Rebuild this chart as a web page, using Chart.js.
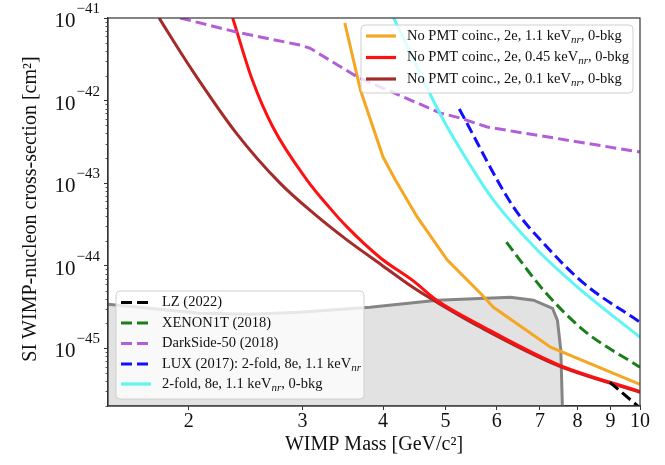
<!DOCTYPE html>
<html>
<head>
<meta charset="utf-8">
<script src="https://cdn.jsdelivr.net/npm/chart.js@4.4.1/dist/chart.umd.min.js"></script>
<style>
html, body { margin: 0; padding: 0; background: #fff; }
</style>
</head>
<body>
<canvas id="limitChart" width="665" height="465"></canvas>
<script>
// axis ticks
const massTicks = [2, 3, 4, 5, 6, 7, 8, 9, 10];
const sigmaTicks = [1e-45, 1e-44, 1e-43, 1e-42, 1e-41];

// No PMT coinc., 2e, 1.1 keV_nr
const orangeMass = [3.49, 3.69, 4.00, 4.18, 4.52, 5.03, 5.66, 5.93, 7.27, 10];
const orangeSigma = [8.7e-42, 1.34e-42, 2.07e-43, 1.09e-43, 3.87e-44, 1.17e-44, 4.64e-45, 3.14e-45, 1.03e-45, 3.66e-46];
// No PMT coinc., 2e, 0.45 keV_nr
const redMass = [2.34, 2.51, 2.70, 3.05, 3.31, 3.52, 3.96, 4.46, 4.85, 5.66, 7.45, 10];
const redSigma = [1.0e-41, 1.77e-42, 4.78e-43, 1.09e-43, 4.98e-44, 2.93e-44, 1.25e-44, 6.5e-45, 3.8e-45, 1.9e-45, 6.4e-46, 3.0e-46];
// No PMT coinc., 2e, 0.1 keV_nr
const brownMass = [1.80, 1.89, 2.01, 2.37, 2.77, 3.12, 3.52, 3.96, 4.46, 4.85, 5.66, 7.45, 10];
const brownSigma = [1.0e-41, 5.41e-42, 2.55e-42, 4.04e-43, 1.0e-43, 4.33e-44, 2.04e-44, 1.05e-44, 5.4e-45, 3.6e-45, 1.80e-45, 6.22e-46, 2.93e-46];
// LZ (2022)
const lzMass = [8.98, 10];
const lzSigma = [3.87e-46, 1.9e-46];
// XENON1T (2018)
const xenonMass = [6.21, 7.09, 8.18, 10];
const xenonSigma = [1.93e-44, 5.05e-45, 1.65e-45, 5.89e-46];
// DarkSide-50 (2018)
const darksideMass = [1.94, 2.37, 2.97, 3.08, 3.65, 4.91, 5.27, 5.80, 10];
const darksideSigma = [1.0e-41, 6.76e-42, 4.71e-42, 4.33e-42, 1.93e-42, 7.05e-43, 6.14e-43, 4.78e-43, 2.38e-43];
// LUX (2017): 2-fold, 8e, 1.1 keV_nr
const luxMass = [5.25, 6.37, 7.09, 8.18, 10];
const luxSigma = [7.89e-43, 5.12e-44, 1.87e-44, 6.14e-45, 2.07e-45];
// 2-fold, 8e, 1.1 keV_nr, 0-bkg
const cyanMass = [4.15, 4.96, 5.46, 5.93, 6.94, 8.01, 10];
const cyanSigma = [1.02e-41, 5.81e-43, 1.65e-43, 6.22e-44, 1.54e-44, 5.48e-45, 1.36e-45];
// grey shaded region
const regionMass = [1.45, 1.74, 2.08, 2.49, 2.97, 3.82, 4.85, 6.30, 6.84, 7.32, 7.45, 7.54, 7.59];
const regionSigma = [3.51e-45, 3.05e-45, 2.65e-45, 2.58e-45, 2.73e-45, 3.14e-45, 3.82e-45, 4.15e-45, 3.82e-45, 3.05e-45, 2.18e-45, 9.46e-46, 1.5e-46];

const SERIF = '"Liberation Serif", "Times New Roman", serif';
const DASH = [11, 5];

const pts = (xs, ys) => xs.map((x, i) => ({ x: x, y: ys[i] }));

const legendTop = [
    { parts: ['No PMT coinc., 2e, 1.1 keV', 'nr', ', 0-bkg'], color: '#f5a623', dash: [] },
    { parts: ['No PMT coinc., 2e, 0.45 keV', 'nr', ', 0-bkg'], color: '#ff1010', dash: [] },
    { parts: ['No PMT coinc., 2e, 0.1 keV', 'nr', ', 0-bkg'], color: '#a52a2a', dash: [] }
];
const legendBottom = [
    { parts: ['LZ (2022)'], color: '#000000', dash: DASH },
    { parts: ['XENON1T (2018)'], color: '#1a7f1a', dash: DASH },
    { parts: ['DarkSide-50 (2018)'], color: '#b25ed8', dash: DASH },
    { parts: ['LUX (2017): 2-fold, 8e, 1.1 keV', 'nr'], color: '#1010ff', dash: DASH },
    { parts: ['2-fold, 8e, 1.1 keV', 'nr', ', 0-bkg'], color: '#5ff5f5', dash: [] }
];

function drawLegend(ctx, box, rows, rowY) {
    ctx.save();
    ctx.beginPath();
    ctx.roundRect(box.x, box.y, box.w, box.h, 4);
    ctx.fillStyle = 'rgba(255,255,255,0.8)';
    ctx.fill();
    ctx.strokeStyle = '#d0d0d0';
    ctx.lineWidth = 1;
    ctx.stroke();
    rows.forEach((r, i) => {
        const y = rowY[i];
        ctx.beginPath();
        ctx.setLineDash(r.dash);
        ctx.strokeStyle = r.color;
        ctx.lineWidth = 3.2;
        ctx.moveTo(box.x + 5, y);
        ctx.lineTo(box.x + 35, y);
        ctx.stroke();
        ctx.setLineDash([]);
        let tx = box.x + 46;
        ctx.fillStyle = '#111';
        ctx.textBaseline = 'middle';
        r.parts.forEach((p, k) => {
            if (k === 1) {
                ctx.font = 'italic 11px ' + SERIF;
                ctx.fillText(p, tx, y + 4);
            } else {
                ctx.font = '14.5px ' + SERIF;
                ctx.fillText(p, tx, y);
            }
            tx += ctx.measureText(p).width;
        });
    });
    ctx.restore();
}

const decorations = {
    id: 'decorations',
    afterDatasetsDraw(chart) {
        const { ctx, chartArea: a, scales } = chart;
        ctx.save();
        // frame
        ctx.strokeStyle = '#333';
        ctx.lineWidth = 1.2;
        ctx.strokeRect(a.left, a.top, a.right - a.left, a.bottom - a.top);
        // minor y ticks
        ctx.lineWidth = 0.8;
        for (let d = -46; d <= -42; d++) {
            for (let k = 2; k <= 9; k++) {
                const v = k * Math.pow(10, d);
                if (v < scales.y.min || v > scales.y.max) continue;
                const py = Math.round(scales.y.getPixelForValue(v)) + 0.5;
                ctx.beginPath();
                ctx.moveTo(a.left - 2.5, py);
                ctx.lineTo(a.left, py);
                ctx.stroke();
            }
        }
        // y tick labels 10^n
        ctx.fillStyle = '#111';
        ctx.textBaseline = 'alphabetic';
        sigmaTicks.forEach(v => {
            const py = scales.y.getPixelForValue(v);
            const exp = '\u2212' + String(-Math.round(Math.log10(v)));
            ctx.font = '15px ' + SERIF;
            const ew = ctx.measureText(exp).width;
            ctx.textAlign = 'left';
            ctx.fillText(exp, 100 - ew, py - 5);
            ctx.font = '21px ' + SERIF;
            ctx.textAlign = 'right';
            ctx.fillText('10', 100 - ew - 1, py + 9);
        });
        // axis titles
        ctx.textAlign = 'center';
        ctx.textBaseline = 'middle';
        ctx.font = '20px ' + SERIF;
        ctx.fillText('WIMP Mass [GeV/c\u00b2]', (a.left + a.right) / 2, 445);
        ctx.translate(31, 209);
        ctx.rotate(-Math.PI / 2);
        ctx.fillText('SI WIMP-nucleon cross-section [cm\u00b2]', 0, 0);
        ctx.restore();
        // legends
        drawLegend(ctx, { x: 361, y: 25, w: 272, h: 68 }, legendTop, [36, 57.5, 79]);
        drawLegend(ctx, { x: 116, y: 291, w: 248, h: 108 }, legendBottom, [302.5, 323, 343.5, 364, 384]);
    }
};

const line = (data, color, dash, order, smooth) => ({
    data: data,
    borderColor: color,
    borderDash: dash,
    borderWidth: 3,
    pointRadius: 0,
    tension: smooth ? 0.4 : 0,
    cubicInterpolationMode: smooth ? 'monotone' : 'default',
    fill: false,
    clip: 0,
    order: order
});

new Chart(document.getElementById('limitChart').getContext('2d'), {
    type: 'scatter',
    data: {
        datasets: [
            line(pts(lzMass, lzSigma), '#000000', DASH, 1, false),
            line(pts(xenonMass, xenonSigma), '#1a7f1a', DASH, 2, true),
            line(pts(luxMass, luxSigma), '#1010ff', DASH, 3, true),
            line(pts(cyanMass, cyanSigma), '#5ff5f5', [], 4, true),
            line(pts(darksideMass, darksideSigma), '#b25ed8', DASH, 5, false),
            line(pts(orangeMass, orangeSigma), '#f5a623', [], 6, false),
            line(pts(redMass, redSigma), '#ff1010', [], 7, true),
            line(pts(brownMass, brownSigma), '#a52a2a', [], 8, true),
            Object.assign(line(pts(regionMass, regionSigma), '#858585', [], 9, false), {
                fill: 'start',
                backgroundColor: 'rgba(190,190,190,0.45)'
            })
        ]
    },
    options: {
        responsive: false,
        animation: false,
        showLine: true,
        layout: { padding: { left: 0, right: 25, top: 18, bottom: 0 } },
        plugins: { legend: { display: false }, tooltip: { enabled: false } },
        scales: {
            x: {
                type: 'logarithmic',
                min: 1.5,
                max: 10,
                afterBuildTicks: axis => { axis.ticks = massTicks.map(v => ({ value: v })); },
                afterFit: axis => { axis.height = 59; },
                grid: { drawOnChartArea: false, drawTicks: true, tickLength: 4, color: '#333', tickColor: '#333' },
                border: { display: true, color: '#333', width: 1.2 },
                ticks: {
                    autoSkip: false,
                    maxRotation: 0,
                    padding: 0,
                    color: '#111',
                    font: { family: SERIF, size: 20 },
                    callback: v => String(v)
                }
            },
            y: {
                type: 'logarithmic',
                min: 2e-46,
                max: 1e-41,
                afterBuildTicks: axis => { axis.ticks = sigmaTicks.map(v => ({ value: v })); },
                afterFit: axis => { axis.width = 108; },
                grid: { drawOnChartArea: false, drawTicks: true, tickLength: 4, color: '#333', tickColor: '#333' },
                border: { display: true, color: '#333', width: 1.2 },
                ticks: { callback: () => '' }
            }
        }
    },
    plugins: [decorations]
});
</script>
</body>
</html>
